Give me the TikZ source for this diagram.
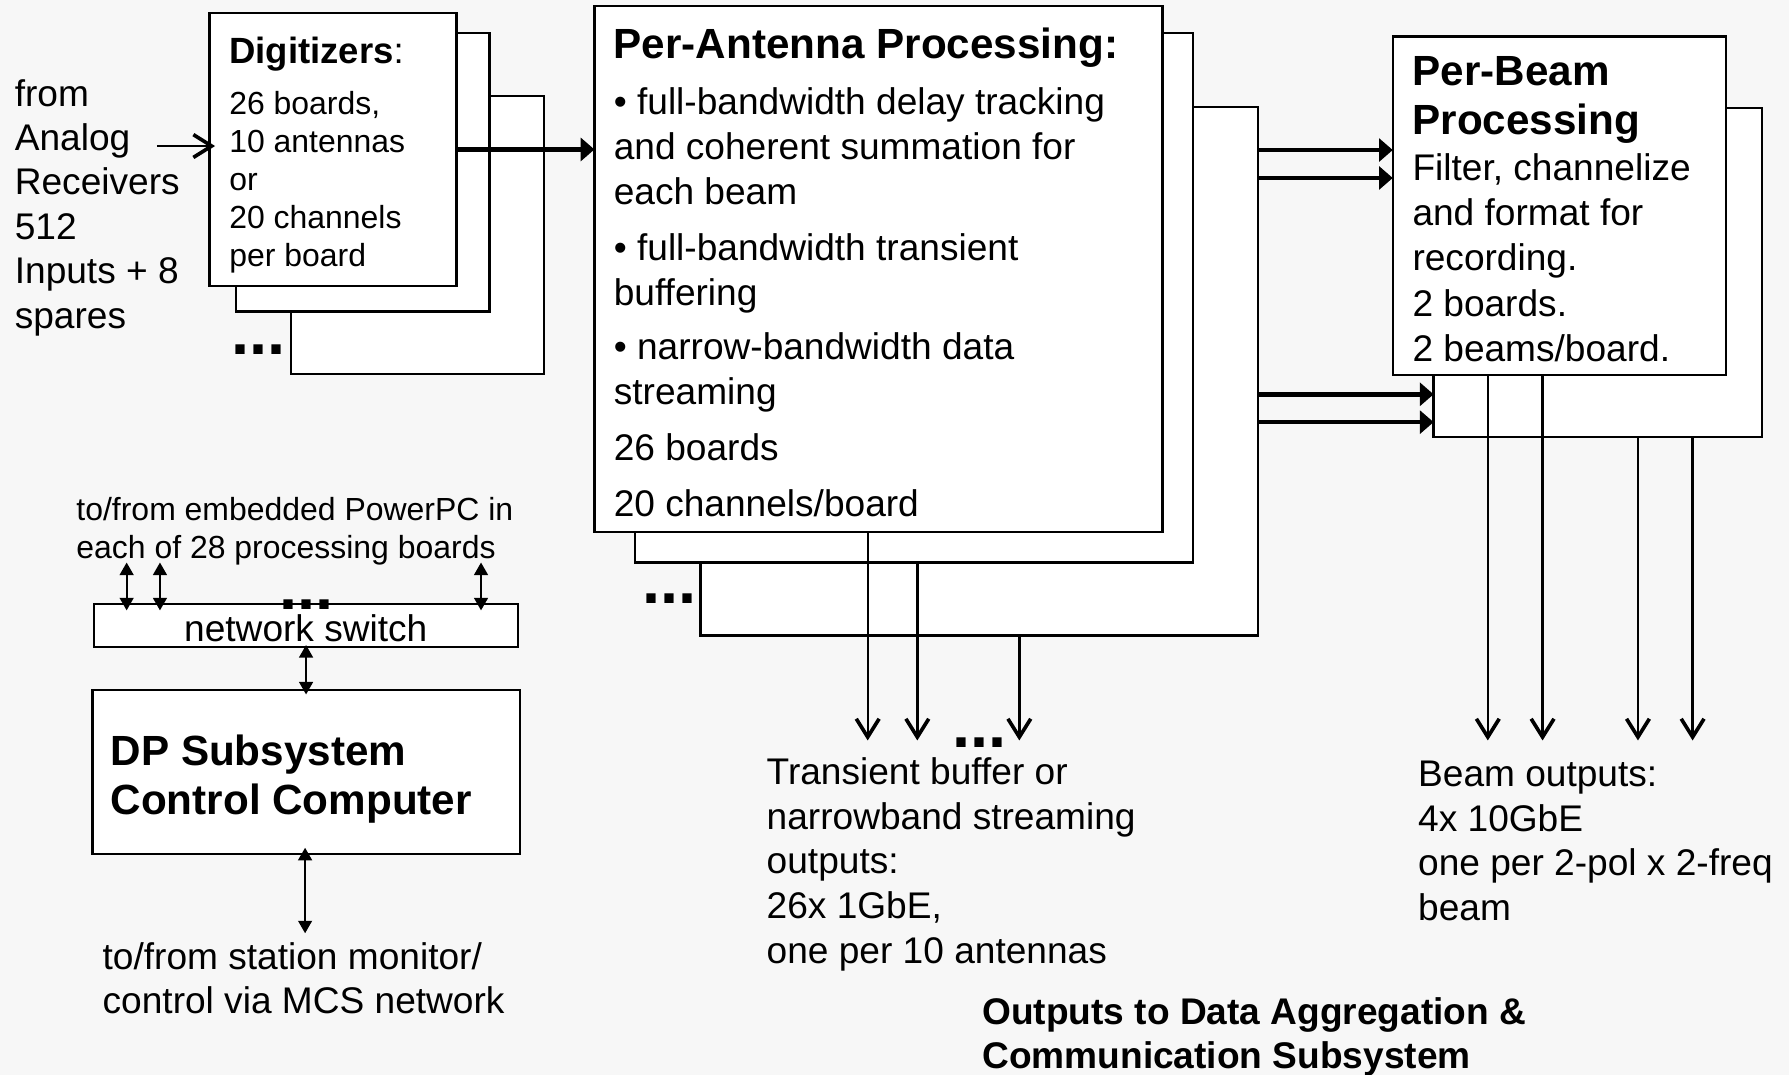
\documentclass[tikz,border=0pt]{standalone}
\usepackage{fontspec}
\setmainfont{Liberation Sans}
\usetikzlibrary{arrows.meta,calc}
\newcommand{\fmain}{\fontsize{32.5}{39.5}\selectfont}
\newcommand{\fsmall}{\fontsize{28}{33.3}\selectfont}
\newcommand{\fdots}{\fontsize{57}{60}\selectfont\bfseries}
\begin{document}
\begin{tikzpicture}[x=1pt,y=-1pt,
  box/.style={draw=black,line width=2pt,fill=white,inner sep=0pt,outer sep=0pt,anchor=north west},
  txt/.style={inner sep=0pt,outer sep=0pt,anchor=base west},
  dotsnode/.style={inner sep=0pt,outer sep=0pt,anchor=base west,font=\fdots},
  thinarr/.style={line width=2.1pt,-{Straight Barb[length=16pt,width=20pt,line width=3.2pt]}},
  thickarr/.style={line width=4pt,-{Triangle[length=12pt,width=20pt]}},
  dblarr/.style={line width=2pt,{Triangle[length=11pt,width=12pt]}-{Triangle[length=11pt,width=12pt]}},
]
\fill[black!3] (0,0) rectangle (1568,942);
\useasboundingbox (0,0) rectangle (1568,942);

% ---------- Digitizers ----------
\node[box,minimum width=222pt,minimum height=244pt] (dig3) at (255,84) {};
\node[box,minimum width=222pt,minimum height=244pt] (dig2) at (207,29) {};
\node[box,minimum width=216.5pt,minimum height=239pt] (dig1) at (183.5,11.5) {};
\node[txt] (digtxt) at (201,56) {\parbox[t]{250pt}{\fsmall{\fontsize{32}{33.3}\selectfont\textbf{Digitizers}:}\\[11pt]26 boards,\\10 antennas\\or\\20 channels\\per board}};
\node[dotsnode] (digdots) at (203,311) {...};

\node[txt] (intxt) at (13,93) {\parbox[t]{200pt}{\fontsize{32.5}{38.9}\selectfont from\\Analog\\Receivers\\512\\Inputs + 8\\spares}};

% ---------- Per-Antenna ----------
\node[box,minimum width=488.7pt,minimum height=463.5pt] (pa3) at (614,93.5) {};
\node[box,minimum width=489pt,minimum height=464pt] (pa2) at (556.5,29) {};
\node[box,minimum width=498pt,minimum height=461pt] (pa1) at (521,5.5) {};
\node[txt] (patxt) at (538,51) {\parbox[t]{480pt}{\fmain{\fontsize{37}{39.5}\selectfont\bfseries Per-Antenna Processing:}\\[10pt]%
\textbullet\ full-bandwidth delay tracking\\and coherent summation for\\each beam\\[9.5pt]%
\textbullet\ full-bandwidth transient\\buffering\\[7.5pt]%
\textbullet\ narrow-bandwidth data\\streaming\\[10pt]%
26 boards\\[9.5pt]20 channels/board}};
\node[dotsnode] (padots) at (563,529) {...};

% ---------- Per-Beam ----------
\node[box,minimum width=287.5pt,minimum height=288.2pt] (pb2) at (1256.5,94.5) {};
\node[box,minimum width=292.3pt,minimum height=296.7pt] (pb1) at (1220.7,32) {};
\node[txt] (pbtxt) at (1238,74.5) {\parbox[t]{300pt}{\fontsize{32.5}{39.75}\selectfont{\fontsize{37}{39.75}\selectfont\bfseries Per-Beam}\\[4pt]{\fontsize{37}{39.75}\selectfont\bfseries Processing}\\Filter, channelize\\and format for\\recording.\\2 boards.\\2 beams/board.}};

% ---------- connectors (data path) ----------
\coordinate (ain) at (137.5,128);
\draw[thinarr] (ain) -- ($(ain -| dig1.west)+(5,0)$);
\draw[thickarr] (dig1.east) -- (dig1.east -| pa1.west);

\coordinate (y1) at (0,131.5);
\coordinate (y2) at (0,156);
\coordinate (y3) at (0,345.6);
\coordinate (y4) at (0,370);
\draw[thickarr] (pa3.east |- y1) -- (pb1.west |- y1);
\draw[thickarr] (pa3.east |- y2) -- (pb1.west |- y2);
\draw[thickarr] (pa3.east |- y3) -- (pb2.west |- y3);
\draw[thickarr] (pa3.east |- y4) -- (pb2.west |- y4);

\coordinate (t1) at (760.5,649);
\coordinate (t2) at (804,649);
\coordinate (t3) at (893.4,649);
\draw[thinarr] (t1 |- pa1.south) -- (t1);
\draw[thinarr] (t2 |- pa2.south) -- (t2);
\draw[thinarr] (t3 |- pa3.south) -- (t3);
\node[dotsnode] (outdots) at (835,655) {...};

\coordinate (b1) at (1304,649);
\coordinate (b2) at (1352,649);
\coordinate (b3) at (1435.6,649);
\coordinate (b4) at (1483.5,649);
\draw[thinarr] (b1 |- pb1.south) -- (b1);
\draw[thinarr] (b2 |- pb1.south) -- (b2);
\draw[thinarr] (b3 |- pb2.south) -- (b3);
\draw[thinarr] (b4 |- pb2.south) -- (b4);

\node[txt] (trtxt) at (672,687.5) {\parbox[t]{400pt}{\fontsize{32.5}{39.25}\selectfont Transient buffer or\\narrowband streaming\\outputs:\\26x 1GbE,\\one per 10 antennas}};
\node[txt] (bmtxt) at (1243,689.5) {\parbox[t]{400pt}{\fontsize{32.5}{39}\selectfont Beam outputs:\\4x 10GbE\\one per 2-pol x 2-freq\\beam}};
\node[txt] (outtxt) at (861,897.5) {\parbox[t]{600pt}{\fontsize{32.5}{39}\selectfont\bfseries Outputs to Data Aggregation \&\\Communication Subsystem}};

% ---------- Control ----------
\node[txt] (pptxt) at (67,456) {\parbox[t]{450pt}{\fontsize{28}{33.5}\selectfont to/from embedded PowerPC in\\each of 28 processing boards}};
\node[box,minimum width=371.5pt,minimum height=37.9pt] (ns) at (82.5,529.4) {};
\node[inner sep=0pt,anchor=base,font=\fontsize{32.5}{39}\selectfont] (nstxt) at (268,562) {network switch};
\node[dotsnode] (nsdots) at (245,534) {...};
\node[box,minimum width=374.5pt,minimum height=144pt] (ctrl) at (81,604.7) {};
\node[txt] (ctrltxt) at (97,670.5) {\parbox[t]{400pt}{\fontsize{37}{43.8}\selectfont\bfseries DP Subsystem\\Control Computer}};
\node[txt] (sttxt) at (90,849.5) {\parbox[t]{450pt}{\fontsize{32.5}{39}\selectfont to/from station monitor/\\control via MCS network}};

\coordinate (u1) at (111,493);
\coordinate (u2) at (140.2,493);
\coordinate (u3) at (421.6,493);
\draw[dblarr] (u1) -- ($(u1 |- ns.north)+(0,5.6)$);
\draw[dblarr] (u2) -- ($(u2 |- ns.north)+(0,5.6)$);
\draw[dblarr] (u3) -- ($(u3 |- ns.north)+(0,5.6)$);
\draw[dblarr] ($(ns.south)+(0,-2)$) -- ($(ctrl.north)+(0,4)$);
\coordinate (st) at (267.4,818);
\draw[dblarr] ($(st |- ctrl.south)+(0,-5.7)$) -- (st);
\end{tikzpicture}
\end{document}
